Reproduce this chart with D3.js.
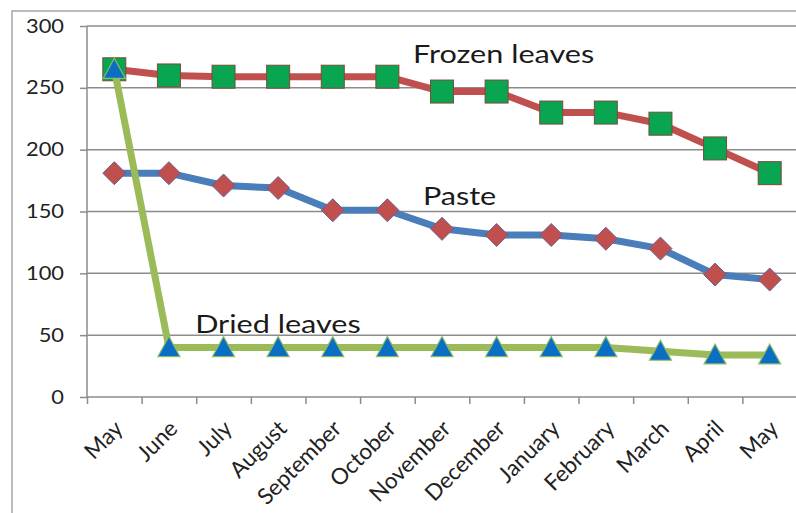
<!DOCTYPE html>
<html><head><meta charset="utf-8">
<script src="https://cdn.jsdelivr.net/npm/d3@7"></script>
<style>body{margin:0;background:#fff;} svg{display:block;font-family:Lato,"Open Sans",sans-serif;}</style>
</head><body>
<svg id="c" width="796" height="513"></svg>
<script>
const months = ["May","June","July","August","September","October","November","December","January","February","March","April","May"];
const frozenLeaves = [265,260,259,259,259,259,247,247,230,230,221,201,181];
const paste = [181,181,171,169,151,151,136,131,131,128,120,99,95];
const driedLeaves = [265,40,40,40,40,40,40,40,40,40,37,34,34];
const yTicks = [0,50,100,150,200,250,300];
const seriesLabels = [
  {text:"Frozen leaves", idx:5.47, val:270},
  {text:"Paste", idx:5.65, val:155},
  {text:"Dried leaves", idx:1.48, val:51.5}
];

(function(){
const svg = d3.select("#c");
const pL=87, pR=797, pT=26, pB=397;
const stretch = 1.15;
const idx = d3.range(months.length);
const xl = d3.scaleLinear().domain([-0.5, months.length-0.5]).range([pL,pR]);
const xc = i => xl(i);
const y = d3.scaleLinear().domain([0,300]).range([pB,pT]);

svg.append("path").attr("d",`M12,513 L12,11 L796,11`).attr("fill","none").attr("stroke","#a6a6a6").attr("stroke-width",1.5);

svg.append("g").selectAll("line").data(yTicks.filter(d=>d>0)).join("line")
  .attr("x1",pL).attr("x2",pR).attr("y1",d=>y(d)).attr("y2",d=>y(d))
  .attr("stroke","#8c8c8c").attr("stroke-width",1.5);

const ya = svg.append("g").attr("transform",`translate(${pL},0)`)
  .call(d3.axisLeft(y).tickValues(yTicks).tickSize(7).tickPadding(6));
ya.select(".domain").attr("stroke","#8c8c8c").attr("stroke-width",1.5).attr("d",`M0,${pT}V${pB}`);
ya.selectAll(".tick line").attr("stroke","#8c8c8c").attr("stroke-width",1.5);
ya.selectAll(".tick text").attr("font-size",19).attr("fill","#222").attr("font-family","Lato,sans-serif")
  .attr("x",null).attr("transform",`translate(-23,0) scale(${stretch},1)`);

const xa = svg.append("g").attr("transform",`translate(0,${pB})`)
  .call(d3.axisBottom(xl).tickValues(d3.range(-0.5, months.length, 1)).tickSize(7).tickFormat(""));
xa.select(".domain").attr("stroke","#8c8c8c").attr("stroke-width",1.5).attr("d",`M${pL},0H${pR}`);
xa.selectAll(".tick line").attr("stroke","#8c8c8c").attr("stroke-width",1.5);

svg.append("g").selectAll("text").data(idx).join("text")
  .attr("transform",i=>`translate(${xc(i)+10},${pB+33}) rotate(-45)`)
  .attr("text-anchor","end")
  .attr("font-size",22.5).attr("fill","#222")
  .text(i=>months[i]);

const line = d3.line().x((d,i)=>xc(i)).y(d=>y(d));

svg.append("path").datum(frozenLeaves).attr("d",line).attr("fill","none").attr("stroke","#c0504d").attr("stroke-width",7).attr("stroke-linejoin","round");
svg.append("path").datum(paste).attr("d",line).attr("fill","none").attr("stroke","#4a7ebb").attr("stroke-width",7).attr("stroke-linejoin","round");

svg.append("g").selectAll("rect").data(frozenLeaves).join("rect")
  .attr("x",(d,i)=>xc(i)-11.5).attr("y",d=>y(d)-11.5).attr("width",23).attr("height",23)
  .attr("fill","#0aa550").attr("stroke","#7a4a3a").attr("stroke-width",1);

svg.append("g").selectAll("path").data(paste).join("path")
  .attr("d",(d,i)=>{const cx=xc(i),cy=y(d),r=11.5;return `M${cx},${cy-r}L${cx+r},${cy}L${cx},${cy+r}L${cx-r},${cy}Z`;})
  .attr("fill","#c0504d").attr("stroke","#6a6090").attr("stroke-width",1);

svg.append("path").datum(driedLeaves).attr("d",line).attr("fill","none").attr("stroke","#9bbb59").attr("stroke-width",7).attr("stroke-linejoin","round");

svg.append("g").selectAll("path").data(driedLeaves).join("path")
  .attr("d",(d,i)=>{const cx=xc(i),cy=y(d);return `M${cx},${cy-11}L${cx+11},${cy+9}L${cx-11},${cy+9}Z`;})
  .attr("fill","#0a6fc2").attr("stroke","#8dba6a").attr("stroke-width",1.2);

svg.append("g").selectAll("text").data(seriesLabels).join("text")
  .attr("transform",d=>`translate(${xl(d.idx)},${y(d.val)}) scale(1.2,1)`)
  .attr("font-size",25.5).attr("fill","#1a1a1a")
  .text(d=>d.text);
})();
</script>
</body></html>
